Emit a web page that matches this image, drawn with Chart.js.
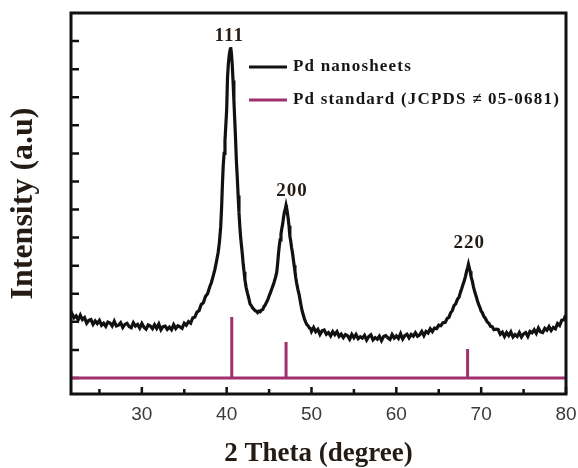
<!DOCTYPE html>
<html>
<head>
<meta charset="utf-8">
<script src="https://cdn.jsdelivr.net/npm/chart.js@4.4.1/dist/chart.umd.min.js"></script>
<style>
  html, body { margin: 0; padding: 0; background: #fff; }
  #wrap { width: 578px; height: 468px; }
</style>
</head>
<body>
<div id="wrap"><canvas id="xrdChart"></canvas></div>
<script>
// XRD scan of the Pd nanosheets: [2 theta, intensity]
const nanosheetScan = [
  [21.65, 226], [21.75, 230], [22.0, 214], [22.25, 221], [22.5, 207], [22.75, 224], [23.0, 208],
  [23.25, 215], [23.5, 195], [23.75, 205], [24.0, 208], [24.25, 191], [24.5, 203], [24.75, 194],
  [25.0, 205], [25.25, 188], [25.5, 195], [25.75, 184], [26.0, 199], [26.25, 196], [26.5, 185],
  [26.75, 202], [27.0, 185], [27.25, 188], [27.5, 197], [27.75, 180], [28.0, 191], [28.25, 195],
  [28.5, 183], [28.75, 179], [29.0, 197], [29.25, 185], [29.5, 191], [29.75, 178], [30.0, 194],
  [30.25, 181], [30.5, 174], [30.75, 189], [31.0, 185], [31.25, 176], [31.5, 190], [31.75, 177],
  [32.0, 192], [32.25, 172], [32.5, 183], [32.75, 185], [33.0, 173], [33.25, 181], [33.5, 172],
  [33.75, 190], [34.0, 176], [34.25, 186], [34.5, 182], [34.75, 177], [35.0, 195], [35.25, 188],
  [35.5, 201], [35.75, 195], [36.0, 214], [36.25, 217], [36.5, 235],
  // 111 peak
  [36.75, 240], [37.0, 262], [37.25, 268], [37.5, 290], [37.75, 300], [38.0, 324], [38.2, 340],
  [38.4, 362], [38.6, 385], [38.8, 415], [39.0, 448], [39.15, 485], [39.3, 540], [39.4, 605],
  [39.5, 690], [39.6, 760], [39.7, 800], [39.8, 845], [39.9, 900], [40.0, 955], [40.1, 1070],
  [40.2, 1120], [40.3, 1150], [40.4, 1168], [40.47, 1178], [40.55, 1160], [40.65, 1120],
  [40.75, 1060], [40.85, 990], [40.95, 920], [41.05, 850], [41.15, 770], [41.25, 715], [41.35, 650],
  [41.45, 590], [41.55, 540], [41.65, 500], [41.75, 470], [41.85, 440], [41.95, 405], [42.05, 378],
  [42.15, 350], [42.3, 322], [42.45, 302], [42.6, 285], [42.75, 264], [42.9, 258], [43.05, 250],
  [43.2, 245], [43.35, 240], [43.5, 238], [43.65, 233], [43.8, 238], [43.95, 236], [44.1, 242],
  [44.25, 244], [44.4, 254], [44.55, 260], [44.7, 270], [44.85, 279], [45.0, 292], [45.15, 303],
  [45.3, 316], [45.45, 328], [45.6, 342], [45.75, 358], [45.9, 376],
  // 200 peak
  [46.0, 405], [46.1, 440], [46.2, 470], [46.3, 492], [46.4, 512], [46.5, 532], [46.6, 548],
  [46.7, 572], [46.8, 590], [46.9, 600], [47.0, 615], [47.05, 608], [47.15, 590], [47.25, 568],
  [47.35, 542], [47.45, 505], [47.55, 488], [47.65, 465], [47.75, 448], [47.85, 425], [47.95, 402],
  [48.05, 380], [48.15, 356], [48.25, 338], [48.4, 315], [48.55, 296], [48.7, 270], [48.85, 245],
  [49.0, 228], [49.15, 212], [49.3, 200], [49.45, 190], [49.6, 186], [49.75, 178], [49.9, 176],
  [50.0, 166], [50.25, 180], [50.5, 165], [50.75, 173], [51.0, 155], [51.25, 168], [51.5, 171],
  [51.75, 156], [52.0, 162], [52.25, 150], [52.5, 165], [52.75, 154], [53.0, 165], [53.25, 148],
  [53.5, 156], [53.75, 144], [54.0, 155], [54.25, 151], [54.5, 138], [54.75, 155], [55.0, 143],
  [55.25, 155], [55.5, 140], [55.75, 147], [56.0, 142], [56.25, 152], [56.5, 135], [56.75, 148],
  [57.0, 154], [57.25, 136], [57.5, 144], [57.75, 138], [58.0, 149], [58.25, 133], [58.5, 148],
  [58.75, 151], [59.0, 143], [59.25, 137], [59.5, 155], [59.75, 142], [60.0, 150], [60.25, 141],
  [60.5, 158], [60.75, 139], [61.0, 151], [61.25, 156], [61.5, 143], [61.75, 155], [62.0, 149],
  [62.25, 161], [62.5, 149], [62.75, 154], [63.0, 166], [63.25, 151], [63.5, 166], [63.75, 160],
  [64.0, 175], [64.25, 165], [64.5, 178], [64.75, 176], [65.0, 188],
  // 220 peak
  [65.25, 186], [65.5, 197], [65.75, 198], [66.0, 212], [66.2, 216], [66.4, 232], [66.6, 240],
  [66.8, 258], [67.0, 264], [67.2, 280], [67.4, 288], [67.55, 305], [67.7, 318], [67.85, 332],
  [68.0, 345], [68.15, 362], [68.3, 382], [68.4, 392], [68.5, 405], [68.6, 392], [68.7, 380],
  [68.8, 362], [68.95, 346], [69.1, 324], [69.25, 306], [69.4, 292], [69.55, 276], [69.7, 262],
  [69.85, 252], [70.0, 238], [70.15, 232], [70.3, 220], [70.5, 212], [70.7, 200], [70.9, 195],
  [71.1, 184], [71.3, 183], [71.5, 172], [71.75, 174],
  [72.0, 173], [72.25, 156], [72.5, 163], [72.75, 148], [73.0, 162], [73.25, 151], [73.5, 164],
  [73.75, 146], [74.0, 155], [74.25, 148], [74.5, 162], [74.75, 146], [75.0, 157], [75.25, 162],
  [75.5, 148], [75.75, 166], [76.0, 161], [76.25, 172], [76.5, 159], [76.75, 178], [77.0, 164],
  [77.25, 162], [77.5, 177], [77.75, 170], [78.0, 183], [78.25, 169], [78.5, 180], [78.75, 175],
  [79.0, 194], [79.25, 187], [79.5, 206], [79.75, 207], [79.95, 223]
]

// Pd standard reference lines (JCPDS 05-0681)
const standardTheta = [40.6, 47.0, 68.4]
const standardIntensity = [217, 128, 103]

// peak indexing labels
const peakLabels = ['111', '200', '220']
const peakLabelTheta = [40.3, 47.7, 68.6]
const peakLabelIntensity = [1217, 664, 479]

const xTicks = [25, 30, 35, 40, 45, 50, 55, 60, 65, 70, 75, 80]
const yTicks = [0, 100, 200, 300, 400, 500, 600, 700, 800, 900, 1000, 1100, 1200]

const X_MIN = 21.65
const X_MAX = 80

const seriesNames = ['Pd nanosheets', 'Pd standard (JCPDS \u2260 05-0681)']
const seriesColors = ['#111111', '#a0306e']

// baseline + sticks for the standard, as one path
const standardLine = [{ x: X_MIN, y: 0 }]
standardTheta.forEach((t, i) => {
  standardLine.push({ x: t, y: 0 }, { x: t, y: standardIntensity[i] }, { x: t, y: 0 })
})
standardLine.push({ x: X_MAX, y: 0 })

const textColor = '#241c14'

// inward tick marks, frame, legend and peak labels
const decorations = {
  id: 'decorations',
  beforeDatasetsDraw(chart) {
    const { ctx, chartArea: a, scales: { x, y } } = chart
    ctx.save()
    ctx.strokeStyle = '#111'
    ctx.lineWidth = 2.5
    ctx.beginPath()
    yTicks.forEach((v) => {
      const py = y.getPixelForValue(v)
      ctx.moveTo(a.left, py)
      ctx.lineTo(a.left + 8, py)
    })
    xTicks.forEach((v) => {
      const px = x.getPixelForValue(v)
      const len = v % 10 === 0 ? 7 : 5
      ctx.moveTo(px, a.bottom)
      ctx.lineTo(px, a.bottom - len)
    })
    ctx.stroke()
    ctx.restore()
  },
  afterDatasetsDraw(chart) {
    const { ctx, chartArea: a, scales: { x, y } } = chart
    ctx.save()
    // frame
    ctx.strokeStyle = '#111'
    ctx.lineWidth = 3
    ctx.strokeRect(a.left, a.top, a.right - a.left, a.bottom - a.top)

    // legend
    ctx.font = 'bold 17px "Liberation Serif"'
    ctx.letterSpacing = '1.2px'
    ctx.textBaseline = 'middle'
    ctx.textAlign = 'left'
    const legendY = [67, 100]
    seriesNames.forEach((name, i) => {
      ctx.strokeStyle = seriesColors[i]
      ctx.lineWidth = 3
      ctx.beginPath()
      ctx.moveTo(249, legendY[i])
      ctx.lineTo(287, legendY[i])
      ctx.stroke()
      ctx.fillStyle = '#161616'
      ctx.fillText(name, 293, legendY[i])
    })

    // peak labels
    ctx.font = 'bold 19px "Liberation Serif"'
    ctx.letterSpacing = '1px'
    ctx.textAlign = 'center'
    ctx.fillStyle = textColor
    peakLabels.forEach((label, i) => {
      ctx.fillText(label, x.getPixelForValue(peakLabelTheta[i]), y.getPixelForValue(peakLabelIntensity[i]))
    })
    ctx.restore()
  },
}

const createChart = () => {
  const canvas = document.getElementById('xrdChart')
  new Chart(canvas, {
    type: 'line',
    data: {
      datasets: [
        {
          label: seriesNames[0],
          data: nanosheetScan.map(([t, v]) => ({ x: t, y: v })),
          borderColor: seriesColors[0],
          borderWidth: 3.2,
          pointRadius: 0,
          tension: 0,
        },
        {
          label: seriesNames[1],
          data: standardLine,
          borderColor: seriesColors[1],
          borderWidth: 3,
          pointRadius: 0,
          tension: 0,
        },
      ],
    },
    options: {
      responsive: true,
      maintainAspectRatio: false,
      animation: false,
      layout: { padding: { top: 13, right: 12, left: 0, bottom: 0 } },
      plugins: {
        legend: { display: false },
        tooltip: { enabled: false },
      },
      scales: {
        x: {
          type: 'linear',
          min: X_MIN,
          max: X_MAX,
          afterBuildTicks: (s) => { s.ticks = xTicks.map((v) => ({ value: v })) },
          afterFit: (s) => {
            s.height = 74
            s.paddingLeft = 0
            s.paddingRight = 0
          },
          grid: { display: false, drawTicks: false },
          border: { display: false },
          ticks: {
            padding: 9,
            autoSkip: false,
            maxRotation: 0,
            color: '#3a3a3a',
            font: { family: 'Liberation Sans', size: 19 },
            callback: (v) => (v % 10 === 0 ? v : ''),
          },
          title: {
            display: true,
            text: '2 Theta (degree)',
            color: textColor,
            padding: 0,
            font: { family: 'Liberation Serif', size: 27, weight: 'bold', lineHeight: 1 },
          },
        },
        y: {
          type: 'linear',
          min: -57,
          max: 1300,
          afterBuildTicks: (s) => { s.ticks = yTicks.map((v) => ({ value: v })) },
          afterFit: (s) => { s.width = 71 },
          grid: { display: false, drawTicks: false },
          border: { display: false },
          ticks: { display: false },
          title: {
            display: true,
            text: 'Intensity (a.u)',
            color: textColor,
            padding: { top: 5, bottom: 0 },
            font: { family: 'Liberation Serif', size: 32, weight: 'bold', lineHeight: 1.2 },
          },
        },
      },
    },
    plugins: [decorations],
  })
}

createChart()
</script>
</body>
</html>
